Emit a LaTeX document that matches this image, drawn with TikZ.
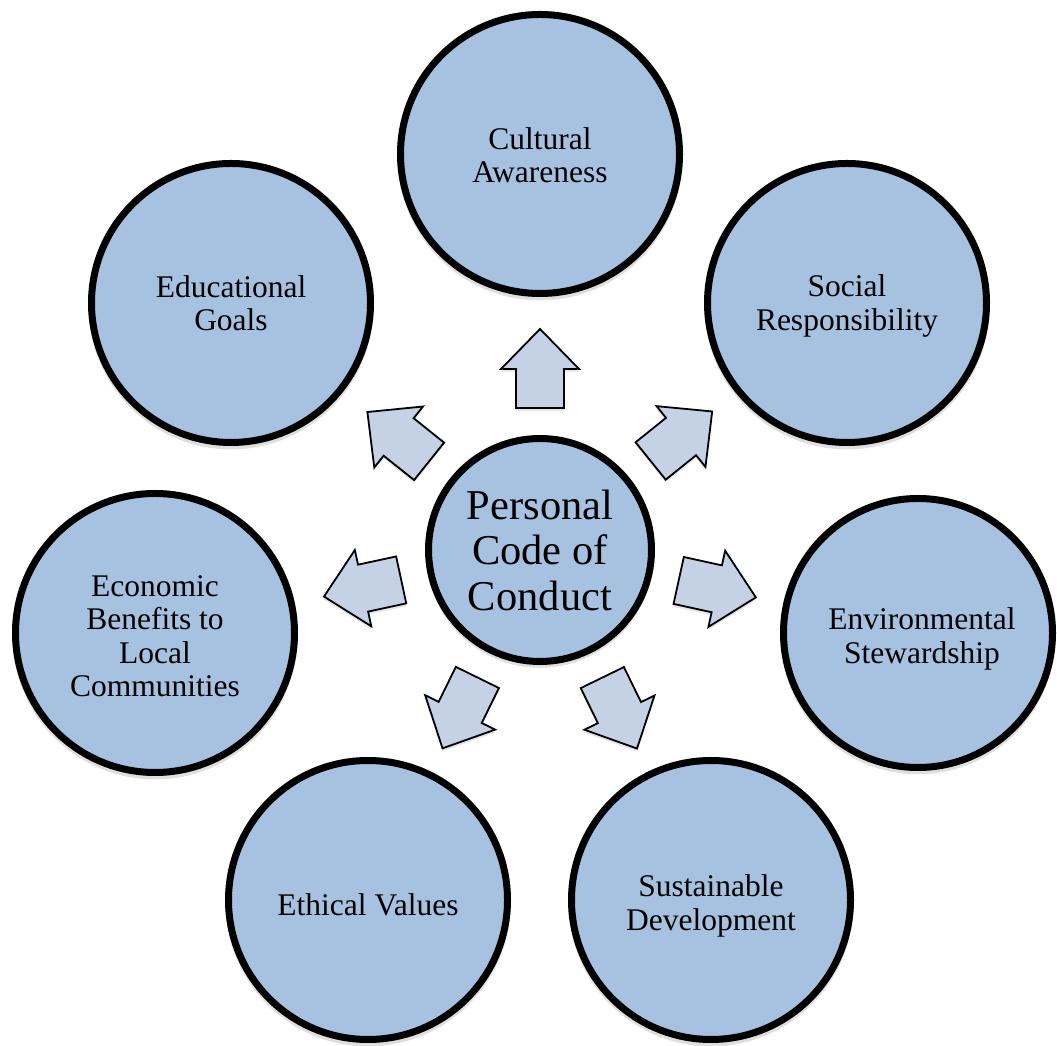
\documentclass[tikz,border=0pt]{standalone}
\usepackage{fontspec}
\setmainfont{Liberation Serif}
\usetikzlibrary{calc,shadows}
\definecolor{circfill}{RGB}{167,194,224}
\definecolor{arrfill}{RGB}{197,210,230}
\tikzset{
  outer/.style={circle, draw=black, line width=7pt, fill=circfill, minimum size=279pt, inner sep=0pt,
    drop shadow={shadow xshift=0pt, shadow yshift=-4pt, shadow scale=1.02, opacity=0.25}},
  lbl/.style={align=center, font=\fontsize{31.5}{33.5}\selectfont, inner sep=0pt},
  center/.style={circle, draw=black, line width=7pt, fill=circfill, minimum size=223pt, inner sep=0pt,
    align=center, font=\fontsize{42.5}{45.5}\selectfont,
    drop shadow={shadow xshift=0pt, shadow yshift=-4pt, shadow scale=1.02, opacity=0.25}},
  blk/.style={draw=black, line width=1.8pt, fill=arrfill, line join=miter}
}
\begin{document}
\begin{tikzpicture}[x=1pt, y=1pt]
\useasboundingbox (0,0) rectangle (1057,1046);
\node[center] (c) at (540,496) {Personal\\Code of\\Conduct};
\node[outer, label={[lbl, yshift=-1pt]center:Cultural\\Awareness}] (cult) at (540,892) {};
\node[outer, label={[lbl, yshift=-3pt]center:Social\\Responsibility}] (soc) at (847,743) {};
\node[outer, minimum size=269pt, label={[lbl, xshift=4pt, yshift=-6pt]center:Environmental\\Stewardship}] (env) at (918,413) {};
\node[outer, label={[lbl, yshift=-6pt]center:Sustainable\\Development}] (sus) at (711,146) {};
\node[outer, label={[lbl, yshift=-5pt]center:Ethical Values}] (eth) at (368,146) {};
\node[outer, label={[lbl, yshift=-3pt]center:Economic\\Benefits to\\Local\\Communities}] (eco) at (155,413) {};
\node[outer, label={[lbl]center:Educational\\Goals}] (edu) at (231,743) {};
\foreach \t in {cult,soc,env,sus,eth,eco,edu} {
  \draw[blk, drop shadow={shadow xshift=0pt, shadow yshift=-3pt, opacity=0.2}]
    ($(c)!142pt!(\t)!24pt!90:(\t)$) --
    ($(c)!181pt!(\t)!24pt!90:(\t)$) --
    ($(c)!181pt!(\t)!39pt!90:(\t)$) --
    ($(c)!221pt!(\t)$) --
    ($(c)!181pt!(\t)!39pt!-90:(\t)$) --
    ($(c)!181pt!(\t)!24pt!-90:(\t)$) --
    ($(c)!142pt!(\t)!24pt!-90:(\t)$) -- cycle;
}
\end{tikzpicture}
\end{document}
